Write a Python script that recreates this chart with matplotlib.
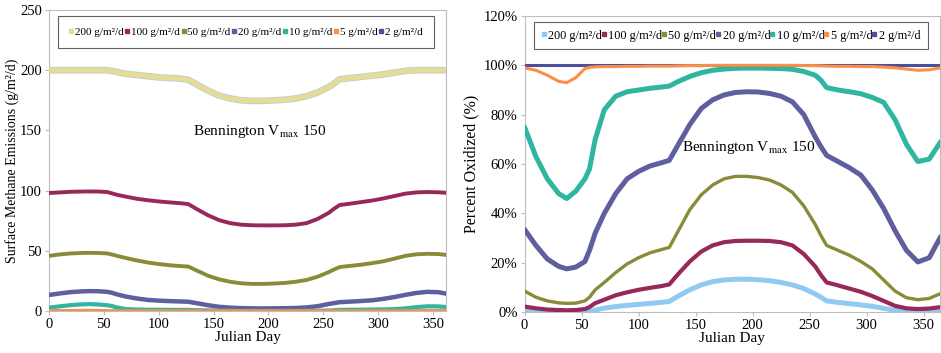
import matplotlib
matplotlib.use('Agg')
import matplotlib.pyplot as plt
from matplotlib.ticker import FuncFormatter

plt.rcParams['font.family'] = ['Liberation Serif', 'DejaVu Serif']
plt.rcParams['mathtext.fontset'] = 'stix'

days = [0, 10, 20, 30, 37, 45, 53, 57, 62, 70, 80, 90, 100, 110, 120, 127, 135, 145, 155, 165, 175,
        185, 195, 205, 215, 225, 235, 245, 255, 260, 265, 275, 285, 295, 305, 315, 325, 335, 345, 355, 365]

labels = ['200 g/m\u00b2/d', '100 g/m\u00b2/d', '50 g/m\u00b2/d', '20 g/m\u00b2/d',
          '10 g/m\u00b2/d', '5 g/m\u00b2/d', '2 g/m\u00b2/d']

# surface methane emissions (g/m2/d)
em_200 = [200, 200, 200, 200, 200, 200, 200, 199.5, 198.5, 197, 196, 195, 194, 193.5, 193, 192, 188, 183, 179, 176.5, 175,
          174.5, 174.5, 175, 175.5, 176.5, 178.5, 181.5, 186, 189, 192.5, 193.5, 194.5, 195.5, 196.5, 198, 199.5, 200, 200, 200, 200]
em_100 = [98, 98.5, 99, 99.2, 99.3, 99.2, 98.8, 97.8, 96.5, 95, 93.2, 92, 91, 90.2, 89.5, 88.8, 84.5, 79.5, 75.5, 73, 71.7,
          71.2, 71.1, 71.1, 71.2, 71.7, 73, 76.5, 81.5, 85, 88, 89.2, 90.5, 91.8, 93.5, 95.5, 97.5, 98.5, 98.8, 98.6, 98]
em_50 = [45.8, 47, 47.8, 48.2, 48.3, 48.2, 47.8, 47, 45.8, 44, 42, 40.3, 39, 38, 37.3, 36.9, 33.5, 29.3, 26.3, 24.3, 23,
         22.5, 22.5, 22.8, 23.3, 24.3, 25.8, 28.5, 32.3, 34.5, 36.5, 37.5, 38.5, 39.8, 41.3, 43.5, 45.8, 47.1, 47.5, 47.3, 46.3]
em_20 = [13.3, 14.6, 15.7, 16.3, 16.5, 16.4, 15.9, 15.2, 13.8, 12, 10.4, 9.2, 8.6, 8.2, 7.9, 7.7, 6.4, 4.8, 3.5, 2.8, 2.4,
         2.2, 2.1, 2.2, 2.3, 2.5, 3, 4, 5.8, 6.6, 7.3, 7.8, 8.3, 8.9, 10.1, 11.6, 13.4, 15, 15.9, 15.6, 13.9]
em_10 = [2.8, 3.9, 4.9, 5.5, 5.7, 5.4, 4.8, 4.2, 2.9, 1.6, 1.2, 1.05, 1, 0.93, 0.88, 0.84, 0.65, 0.45, 0.3, 0.2, 0.15,
         0.12, 0.12, 0.12, 0.12, 0.12, 0.16, 0.25, 0.4, 0.6, 0.9, 1, 1.07, 1.15, 1.3, 1.5, 2.2, 3.2, 3.9, 3.8, 3.1]
em_5 = [0.05, 0.1, 0.2, 0.33, 0.35, 0.25, 0.07, 0.05, 0.04, 0.03, 0.02, 0.02, 0.02, 0.01, 0.01, 0.01, 0.01, 0.01, 0.01, 0.0, 0.0,
        0.0, 0.0, 0.0, 0.0, 0.0, 0.0, 0.01, 0.01, 0.01, 0.02, 0.02, 0.02, 0.02, 0.03, 0.04, 0.05, 0.08, 0.1, 0.09, 0.05]
em_2 = [0] * len(days)

# percent oxidized (%)
ox_200 = [1, 0.5, 0.2, 0, 0, 0, 0, 0.2, 0.8, 1.6, 2.2, 2.7, 3.1, 3.5, 3.9, 4.3, 6.5, 9, 11, 12.3, 13,
          13.3, 13.3, 13.1, 12.7, 12, 11, 9.5, 7.3, 6, 4.5, 3.9, 3.4, 2.9, 2.3, 1.5, 0.7, 0.2, 0, 0, 0.2]
ox_100 = [2.2, 1.5, 1, 0.8, 0.7, 0.8, 1.2, 2, 3.6, 5, 6.8, 8, 9, 9.8, 10.5, 11.2, 15.5, 20.5, 24.5, 27, 28.3,
          28.8, 28.9, 28.9, 28.8, 28.3, 27, 23.5, 18.5, 15, 12, 10.8, 9.5, 8.2, 6.5, 4.5, 2.5, 1.5, 1.2, 1.4, 2]
ox_50 = [8.5, 6, 4.5, 3.7, 3.5, 3.6, 4.5, 6, 9, 12, 16, 19.5, 22, 24, 25.3, 26.2, 33, 41.5, 47.5, 51.5, 54,
         55, 55, 54.5, 53.5, 51.5, 48.5, 43, 35.5, 31, 27, 25, 23, 20.5, 17.5, 13, 8.5, 5.8, 5, 5.5, 7.5]
ox_20 = [33.5, 27, 21.5, 18.5, 17.5, 18.2, 20.5, 25, 32, 40, 48, 54, 57, 59.2, 60.5, 61.5, 68, 76, 82.5, 86, 88,
         89, 89.3, 89.2, 88.6, 87.5, 85.2, 80, 71, 67, 63.5, 61, 58.5, 55.5, 49.5, 42, 33, 25, 20.3, 22, 30.5]
ox_10 = [75, 63, 54, 48, 46, 49, 54, 58, 70, 82, 87.5, 89.3, 90, 90.7, 91.2, 91.6, 93.5, 95.5, 97, 98, 98.5,
         98.8, 98.9, 98.9, 98.8, 98.7, 98.4, 97.5, 96, 94, 91, 90, 89.3, 88.5, 87, 85, 78, 68, 61, 62, 69]
ox_5 = [99, 98, 96, 93.5, 93, 95, 98.7, 99.2, 99.4, 99.5, 99.5, 99.6, 99.6, 99.7, 99.7, 99.7, 99.8, 99.9, 99.9, 100, 100,
        100, 100, 100, 100, 100, 100, 99.9, 99.9, 99.8, 99.7, 99.6, 99.6, 99.5, 99.5, 99.3, 99, 98.5, 98, 98.2, 99]
ox_2 = [100] * len(days)

em_series = [em_200, em_100, em_50, em_20, em_10, em_5, em_2]
ox_series = [ox_200, ox_100, ox_50, ox_20, ox_10, ox_5, ox_2]

left_colors = ['#E6DC96', '#97285A', '#8A8B38', '#5F5E9F', '#2FB5A0', '#F7904A', '#4E4E98']
right_colors = ['#90CAF2', '#97285A', '#8A8B38', '#5F5E9F', '#2FB5A0', '#F7904A', '#4E4E98']
left_widths = [3.6, 2.8, 2.8, 3.2, 3.0, 2.6, 2.4]
right_widths = [3.6, 3.0, 2.4, 3.6, 3.6, 2.2, 2.2]
# draw order (2 g/m2/d goes under 5 g/m2/d like in the original)
order = [0, 1, 2, 3, 4, 6, 5]

fig = plt.figure(figsize=(9.41, 3.53), dpi=100)
ax1 = fig.add_axes([0.0521, 0.119, 0.4219, 0.8527])
ax2 = fig.add_axes([0.5574, 0.1161, 0.4416, 0.8385])


def style_axes(ax):
    for sp in ax.spines.values():
        sp.set_color('#BDBDBD')
        sp.set_linewidth(0.8)
    ax.tick_params(colors='#BDBDBD', labelcolor='black', labelsize=10.5, length=3, direction='out', pad=2)
    ax.set_xticks(range(0, 351, 50))
    ax.set_xlabel('Julian Day', fontsize=11, labelpad=0)


# left: emissions
for i in order:
    if i == 0:
        ax1.plot(days, em_series[i], color='#B9CFD6', lw=left_widths[i] + 1.2, solid_capstyle='round', zorder=2)
    ax1.plot(days, em_series[i], color=left_colors[i], lw=left_widths[i], solid_capstyle='round', zorder=3)
ax1.set_xlim(0, 362)
ax1.set_ylim(0, 250)
ax1.set_yticks(range(0, 251, 50))
style_axes(ax1)
ax1.set_ylabel('Surface Methane Emissions (g/m\u00b2/d)', fontsize=10, labelpad=1)
ax1.text(0.53, 0.595, r'Bennington V$_{\mathrm{max}}$ 150', transform=ax1.transAxes,
         ha='center', va='center', fontsize=11)

# right: percent oxidized
for i in order:
    ax2.plot(days, ox_series[i], color=right_colors[i], lw=right_widths[i], solid_capstyle='round', zorder=3)
ax2.set_xlim(0, 364.5)
ax2.set_ylim(0, 120)
ax2.set_yticks(range(0, 121, 20))
ax2.yaxis.set_major_formatter(FuncFormatter(lambda v, p: '%d%%' % v))
style_axes(ax2)
ax2.set_ylabel('Percent Oxidized (%)', fontsize=11.5, labelpad=3)
ax2.text(0.54, 0.555, r'Bennington V$_{\mathrm{max}}$ 150', transform=ax2.transAxes,
         ha='center', va='center', fontsize=11)

# legends in a box across the top
for ax, colors, box, pad, fs in [(ax1, left_colors, (0.008, 0.864, 0.975, 0.126), 1.0, 8.0),
                                 (ax2, right_colors, (0.008, 0.882, 0.977, 0.104), 0.6, 8.8)]:
    handles = [plt.Line2D([], [], ls='none', marker='s', ms=3, color=c) for c in colors]
    leg = ax.legend(handles, labels, loc='center', bbox_to_anchor=box, mode='expand', ncol=7,
                    fontsize=fs, handlelength=0.4, handletextpad=0.15, columnspacing=0.2,
                    borderpad=pad, fancybox=False, framealpha=1)
    leg.get_frame().set_edgecolor('#606060')
    leg.get_frame().set_linewidth(0.8)

fig.savefig('out.png', dpi=100)
